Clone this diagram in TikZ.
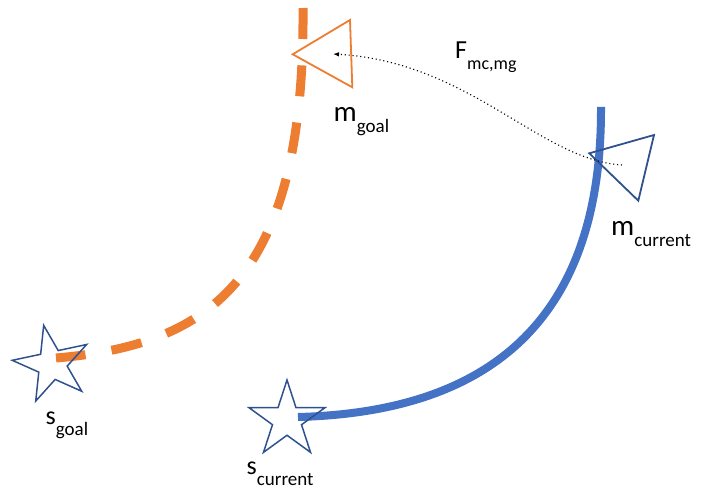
\documentclass[tikz,border=0pt]{standalone}
\usepackage{fontspec}
\setmainfont{Carlito}
\usetikzlibrary{shapes.geometric,arrows.meta}
\definecolor{pptorange}{HTML}{ED7D31}
\definecolor{pptblue}{HTML}{4472C4}
\definecolor{pptdark}{HTML}{2F528F}
\newcommand{\lowsub}[1]{\raisebox{-11pt}{\fontsize{19}{19}\selectfont #1}}

\begin{document}
\begin{tikzpicture}[x=1pt, y=-1pt,
    waypoint/.style = {draw=pptdark, line width=1.5pt, shape=star, star points=5,
                       star point ratio=2.62, minimum size=80pt, inner sep=0pt},
    robot/.style    = {line width=1.8pt, line join=miter},
    goalpath/.style = {pptorange, line width=9pt, dash pattern=on 31pt off 26.4pt},
    curpath/.style  = {pptblue, line width=8pt},
    force/.style    = {line width=1.1pt, dash pattern=on 1.1pt off 2.8pt,
                       -{Latex[length=6pt,width=4.5pt]}},
    lbl/.style      = {inner sep=0pt, anchor=base west, font=\fontsize{29}{29}\selectfont},
    small/.style    = {lbl, font=\fontsize{26}{26}\selectfont}]
        \useasboundingbox (0,0) rectangle (705,494);

        % Path ends
        \coordinate (gtop) at (303,8);
        \coordinate (gend) at (56,358);
        \coordinate (ctop) at (601,107);
        \coordinate (cend) at (298,417);
        \coordinate (mc)   at (622,165);
        \coordinate (mg)   at (333,54);

        % Paths
        \draw[goalpath] (gtop) .. controls (305,280) and (210,345) .. (gend);
        \draw[curpath]  (ctop) .. controls (602,320) and (490,412) .. (cend);

        % Markers
        \draw[robot, pptorange] (292.7,54.3) -- (350,20) -- (352.3,87.3) -- cycle;
        \draw[robot, pptdark]   (589.3,153.3) -- (654,135) -- (638.3,200.7) -- cycle;
        \node[waypoint, rotate=12] (sgoal) at (52,364.5) {};
        \node[waypoint]            (scur)  at (287,420)  {};

        % Force
        \draw[force] (mc) .. controls (540,160) and (470,62) .. (mg);

        % Labels
        \node[lbl]   (mgoal-lbl) at (333.5,121.7) {m\lowsub{goal}};
        \node[lbl]   (mcur-lbl)  at (611,236)     {m\lowsub{current}};
        \node[small] (sgoal-lbl) at (45.5,425)    {s\lowsub{goal}};
        \node[small] (scur-lbl)  at (246.5,475)   {s\lowsub{current}};
        \node[small] (f-lbl)     at (455,58.3)    {F\raisebox{-11pt}{\fontsize{18}{18}\selectfont mc,mg}};
      \end{tikzpicture}
\end{document}
